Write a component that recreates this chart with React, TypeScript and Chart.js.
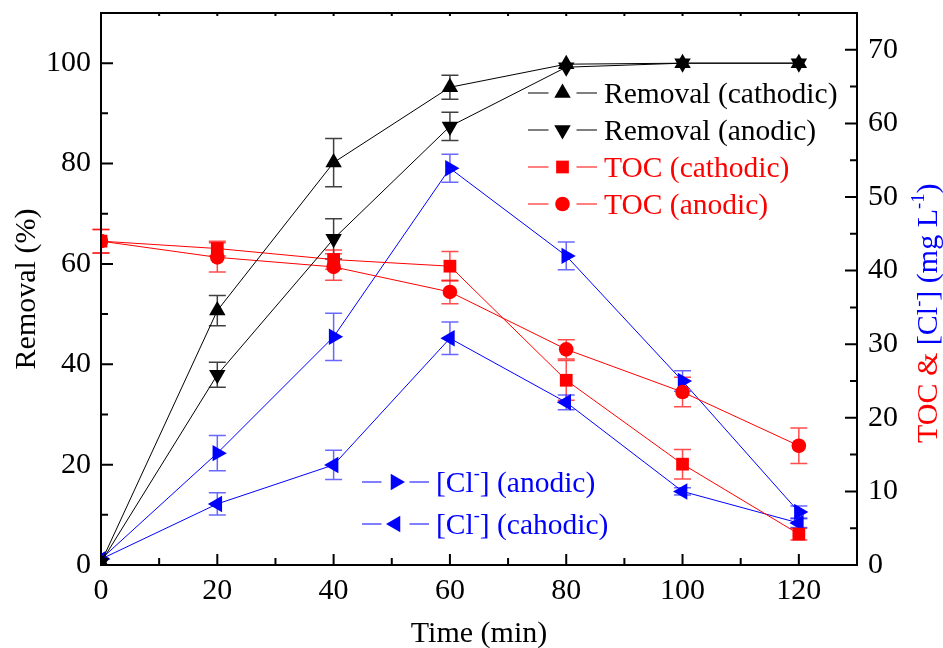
import React, { useEffect, useRef } from 'react';
import { Chart, registerables } from 'chart.js';
import { drawPoint } from 'chart.js/helpers';

Chart.register(...registerables);

const FONT = '"Liberation Serif", "Times New Roman", serif';

// ---- data ----
const times = [0, 20, 40, 60, 80, 100, 120];
const removalCathodic = [0.5, 50.7, 80.2, 95.2, 99.8, 100, 100];
const removalCathodicErr = [0, 3.0, 4.8, 2.4, 0, 0, 0];
const removalAnodic = [0.5, 37.9, 65.0, 87.4, 99.2, 100, 100];
const removalAnodicErr = [0, 2.5, 4.0, 2.8, 0, 0, 0];
const tocCathodic = [44.0, 43.0, 41.5, 40.6, 25.1, 13.7, 4.2];
const tocCathodicErr = [1.6, 1.0, 1.3, 2.0, 2.7, 2.0, 0.8];
const tocAnodic = [44.0, 41.8, 40.5, 37.1, 29.3, 23.5, 16.2];
const tocAnodicErr = [1.6, 2.0, 1.8, 1.6, 1.3, 2.0, 2.4];
const clAnodic = [0.8, 15.2, 31.0, 53.9, 42.0, 25.0, 7.2];
const clAnodicErr = [0, 2.4, 3.2, 1.9, 1.9, 1.4, 0.8];
const clCathodic = [0.8, 8.3, 13.6, 30.8, 22.1, 10.0, 5.7];
const clCathodicErr = [0, 1.5, 2.0, 2.2, 1.0, 0.5, 0.6];

const seriesLabels = [
  'Removal (cathodic)',
  'Removal (anodic)',
  'TOC (cathodic)',
  'TOC (anodic)',
  '[Cl-] (anodic)',
  '[Cl-] (cahodic)',
];
const xTitle = 'Time (min)';
const yTitle = 'Removal (%)';

type Part = { text: string; color: string; sup?: boolean };

const drawRich = (ctx: CanvasRenderingContext2D, parts: Part[], x: number, y: number, size: number, align: 'left' | 'center') => {
  const widths = parts.map((p) => {
    ctx.font = `${p.sup ? size * 0.62 : size}px ${FONT}`;
    return ctx.measureText(p.text).width;
  });
  const total = widths.reduce((a, b) => a + b, 0);
  let cx = align === 'center' ? x - total / 2 : x;
  ctx.textAlign = 'left';
  ctx.textBaseline = 'alphabetic';
  parts.forEach((p, i) => {
    ctx.font = `${p.sup ? size * 0.62 : size}px ${FONT}`;
    ctx.fillStyle = p.color;
    ctx.fillText(p.text, cx, p.sup ? y - size * 0.42 : y);
    cx += widths[i];
  });
};

const clParts = (suffix: string, color: string): Part[] => [
  { text: '[Cl', color },
  { text: '-', color, sup: true },
  { text: ']' + suffix, color },
];

const decorPlugin = {
  id: 'decor',
  beforeDatasetsDraw(chart: any) {
    const ctx = chart.ctx as CanvasRenderingContext2D;
    ctx.save();
    chart.data.datasets.forEach((ds: any) => {
      const ys = chart.scales[ds.yAxisID];
      const xs = chart.scales.x;
      ctx.strokeStyle = ds.errColor;
      ctx.lineWidth = 1.5;
      ds.data.forEach((pt: any, i: number) => {
        const e = ds.errors[i];
        if (!e) return;
        const px = xs.getPixelForValue(pt.x);
        const top = ys.getPixelForValue(pt.y + e);
        const bot = ys.getPixelForValue(pt.y - e);
        ctx.beginPath();
        ctx.moveTo(px, top);
        ctx.lineTo(px, bot);
        ctx.moveTo(px - 8.5, top);
        ctx.lineTo(px + 8.5, top);
        ctx.moveTo(px - 8.5, bot);
        ctx.lineTo(px + 8.5, bot);
        ctx.stroke();
      });
    });
    ctx.restore();
  },
  afterDraw(chart: any) {
    const ctx = chart.ctx as CanvasRenderingContext2D;
    const { left, right, top, bottom } = chart.chartArea;
    const xs = chart.scales.x;
    const yl = chart.scales.y;
    const yr = chart.scales.y1;
    ctx.save();
    // frame
    ctx.strokeStyle = '#000';
    ctx.lineWidth = 2;
    ctx.beginPath();
    ctx.rect(left, top, right - left, bottom - top);
    ctx.stroke();
    // ticks (inward)
    ctx.lineWidth = 2;
    ctx.beginPath();
    for (let v = 10; v < 130; v += 10) {
      const px = xs.getPixelForValue(v);
      const len = v % 20 === 0 ? 11 : 7;
      ctx.moveTo(px, bottom);
      ctx.lineTo(px, bottom - len);
      ctx.moveTo(px, top);
      ctx.lineTo(px, top + 3);
    }
    for (let v = 10; v < 110; v += 10) {
      const py = yl.getPixelForValue(v);
      const len = v % 20 === 0 ? 12 : 7;
      ctx.moveTo(left, py);
      ctx.lineTo(left + len, py);
    }
    for (let v = 5; v < 75; v += 5) {
      const py = yr.getPixelForValue(v);
      const len = v % 10 === 0 ? 12 : 7;
      ctx.moveTo(right, py);
      ctx.lineTo(right - len, py);
    }
    ctx.stroke();

    // axis titles
    ctx.fillStyle = '#000';
    drawRich(ctx, [{ text: xTitle, color: '#000' }], (left + right) / 2, 642, 30, 'center');
    ctx.save();
    ctx.translate(35, (top + bottom) / 2);
    ctx.rotate(-Math.PI / 2);
    drawRich(ctx, [{ text: yTitle, color: '#000' }], 0, 0, 30, 'center');
    ctx.restore();
    ctx.save();
    ctx.translate(937, 443);
    ctx.rotate(-Math.PI / 2);
    drawRich(
      ctx,
      [
        { text: 'TOC & ', color: '#ff0000' },
        { text: '[Cl', color: '#0000ff' },
        { text: '-', color: '#0000ff', sup: true },
        { text: '] (mg L', color: '#0000ff' },
        { text: '-1', color: '#0000ff', sup: true },
        { text: ')', color: '#0000ff' },
      ],
      0,
      0,
      30,
      'left'
    );
    ctx.restore();

    // legends
    const items = [
      { ds: 0, x: 528, y: 93, parts: [{ text: seriesLabels[0], color: '#000' }] },
      { ds: 1, x: 528, y: 130, parts: [{ text: seriesLabels[1], color: '#000' }] },
      { ds: 2, x: 528, y: 167, parts: [{ text: seriesLabels[2], color: '#ff0000' }] },
      { ds: 3, x: 528, y: 204, parts: [{ text: seriesLabels[3], color: '#ff0000' }] },
      { ds: 4, x: 362, y: 482, parts: clParts(' (anodic)', '#0000ff') },
      { ds: 5, x: 362, y: 524, parts: clParts(' (cahodic)', '#0000ff') },
    ];
    items.forEach((it) => {
      const ds: any = chart.data.datasets[it.ds];
      const w = it.ds >= 4 ? 67 : 69;
      const mid = it.x + w / 2;
      ctx.strokeStyle = ds.borderColor;
      ctx.lineWidth = 1;
      ctx.beginPath();
      ctx.moveTo(it.x, it.y);
      ctx.lineTo(mid - 14, it.y);
      ctx.moveTo(mid + 14, it.y);
      ctx.lineTo(it.x + w, it.y);
      ctx.stroke();
      ctx.fillStyle = ds.pointBackgroundColor;
      ctx.strokeStyle = ds.pointBackgroundColor;
      drawPoint(ctx, { pointStyle: ds.pointStyle, rotation: ds.pointRotation, radius: ds.pointRadius, borderWidth: 0 }, mid, it.y);
      drawRich(ctx, it.parts, it.x + w + 7, it.y + 9.5, 29.5, 'left');
    });
    ctx.restore();
  },
};

export default function App() {
  const ref = useRef<HTMLCanvasElement>(null);
  useEffect(() => {
    document.body.style.margin = '0';
    const mk = (label: string, values: number[], errs: number[], color: string, errColor: string, axis: string, style: string, rotation: number, radius: number) => ({
      label,
      data: times.map((t, i) => ({ x: t, y: values[i] })),
      errors: errs,
      errColor,
      yAxisID: axis,
      borderColor: color,
      backgroundColor: color,
      borderWidth: 1,
      pointStyle: style,
      pointRotation: rotation,
      pointRadius: radius,
      pointHoverRadius: radius,
      pointBorderWidth: 0,
      pointBackgroundColor: color,
      pointBorderColor: color,
      tension: 0,
      fill: false,
    });
    const black = '#000000';
    const red = '#ff0000';
    const blue = '#0000ff';
    const vFit = (w: number) => (s: any) => {
      s.width = w;
      s.paddingTop = 0;
      s.paddingBottom = 0;
    };
    const chart = new Chart(ref.current as HTMLCanvasElement, {
      type: 'line',
      data: {
        datasets: [
          mk(seriesLabels[0], removalCathodic, removalCathodicErr, black, 'rgba(0,0,0,0.75)', 'y', 'triangle', 0, 9.5),
          mk(seriesLabels[1], removalAnodic, removalAnodicErr, black, 'rgba(0,0,0,0.75)', 'y', 'triangle', 180, 9.5),
          mk(seriesLabels[2], tocCathodic, tocCathodicErr, red, 'rgba(255,0,0,0.7)', 'y1', 'rect', 0, 9),
          mk(seriesLabels[3], tocAnodic, tocAnodicErr, red, 'rgba(255,0,0,0.7)', 'y1', 'circle', 0, 7.3),
          mk(seriesLabels[4], clAnodic, clAnodicErr, blue, 'rgba(40,40,255,0.7)', 'y1', 'triangle', 90, 9.5),
          mk(seriesLabels[5], clCathodic, clCathodicErr, blue, 'rgba(40,40,255,0.7)', 'y1', 'triangle', -90, 9.5),
        ] as any,
      },
      options: {
        animation: false,
        responsive: true,
        maintainAspectRatio: false,
        layout: { padding: { top: 13, left: 0, right: 0, bottom: 0 } },
        plugins: { legend: { display: false }, tooltip: { enabled: false } },
        scales: {
          x: {
            type: 'linear',
            min: 0,
            max: 130,
            afterFit: (s: any) => {
              s.height = 83;
              s.paddingLeft = 0;
              s.paddingRight = 0;
            },
            grid: { display: false, drawTicks: false },
            border: { display: false },
            ticks: { stepSize: 20, includeBounds: false, padding: 8, color: '#000', font: { family: FONT, size: 30 } },
          },
          y: {
            type: 'linear',
            position: 'left',
            min: 0,
            max: 110,
            afterFit: vFit(101),
            grid: { display: false, drawTicks: false },
            border: { display: false },
            ticks: { stepSize: 20, includeBounds: false, padding: 10, color: '#000', font: { family: FONT, size: 30 } },
          },
          y1: {
            type: 'linear',
            position: 'right',
            min: 0,
            max: 75,
            afterFit: vFit(86),
            grid: { display: false, drawTicks: false },
            border: { display: false },
            ticks: { stepSize: 10, includeBounds: false, padding: 11, color: '#000', font: { family: FONT, size: 30 } },
          },
        },
      } as any,
      plugins: [decorPlugin],
    });
    return () => chart.destroy();
  }, []);
  return (
    <div style={{ position: 'relative', width: 943, height: 648 }}>
      <canvas ref={ref} />
    </div>
  );
}
